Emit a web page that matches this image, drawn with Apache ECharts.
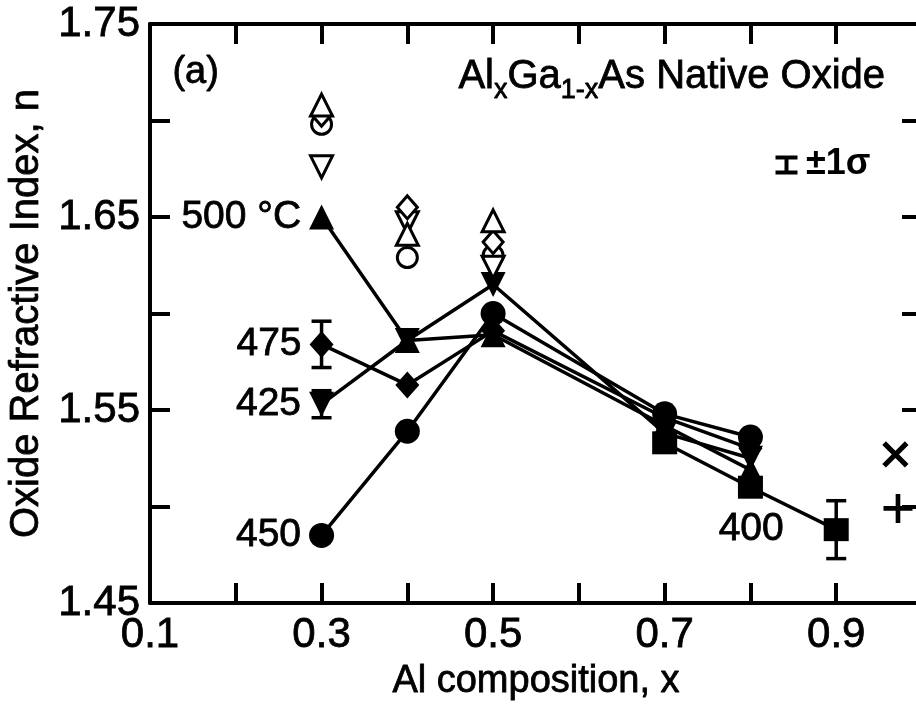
<!DOCTYPE html>
<html>
<head>
<meta charset="utf-8">
<script src="https://cdn.jsdelivr.net/npm/echarts@6/dist/echarts.min.js"></script>
<style>
  html, body { margin: 0; padding: 0; background: #fff; }
  #chart { width: 916px; height: 706px; }
</style>
</head>
<body>
<div id="chart"></div>
<script>
var FONT = '"Liberation Sans", Arial, Helvetica, sans-serif';

// filled symbols, one line per oxidation temperature
var xMain = [0.3, 0.4, 0.5, 0.7, 0.8];
var n500 = [1.650, 1.586, 1.589, 1.542, 1.519];
var n475 = [1.584, 1.563, 1.591, 1.546, 1.530];
var n425 = [1.553, 1.586, 1.615, 1.538, 1.525];
var n450 = [1.485, 1.539, 1.600, 1.548, 1.536];
var x400 = [0.7, 0.8, 0.9];
var n400 = [1.533, 1.510, 1.488];

// open symbols (not connected)
var xOpen = [0.3, 0.4, 0.5];
var openTriUp = [1.708, 1.641, 1.648];
var openDiamond = [1.703, 1.655, 1.637];
var openCircle = [1.698, 1.629, 1.630];
var openTriDown = [1.676, 1.647, 1.624];

// x and + at the right edge
var xCross = [0.969];
var nCross = [1.527];
var xPlus = [0.972];
var nPlus = [1.499];

// error bars: x, n, sigma
var errX = [0.3, 0.3, 0.9];
var errN = [1.584, 1.553, 1.488];
var errS = [0.012, 0.007, 0.015];

var tempLabels = ['500 °C', '475', '425', '450', '400'];

var xTickLabels = ['0.1', '0.3', '0.5', '0.7', '0.9'];
var yTickLabels = ['1.45', '1.55', '1.65', '1.75'];

var chart = echarts.init(document.getElementById('chart'));

// a thin outline makes the glyphs as heavy as the scanned lettering
var INK = { textBorderColor: '#000', textBorderWidth: 0.8 };

function pairs(xs, ys) {
    return xs.map(function (x, i) { return [x, ys[i]]; });
}

function lineSeries(xs, ys, symbol, rotate, size, labelIdx, labelText, labelDist) {
    return {
        type: 'line',
        symbol: symbol,
        symbolSize: size,
        symbolRotate: rotate,
        lineStyle: { color: '#000', width: 3.5 },
        itemStyle: { color: '#000', opacity: 1 },
        z: 3,
        data: xs.map(function (x, i) {
            var d = { value: [x, ys[i]] };
            if (i === labelIdx) {
                d.label = Object.assign({
                    show: true, position: 'left', distance: labelDist,
                    formatter: labelText, fontSize: 39, fontFamily: FONT, color: '#000'
                }, INK);
            }
            return d;
        })
    };
}

function openSeries(ys, symbol, rotate, size) {
    return {
        type: 'scatter',
        symbol: symbol,
        symbolSize: size,
        symbolRotate: rotate,
        itemStyle: { color: '#fff', borderColor: '#000', borderWidth: 3, opacity: 1 },
        z: 4,
        data: pairs(xOpen, ys)
    };
}

var plusPath = 'path://M0,42L100,42L100,58L0,58Z M42,0L58,0L58,100L42,100Z';

var tickStyle = { show: true, inside: true, length: 20, lineStyle: { color: '#000', width: 4 } };
var lineStyleAxis = { show: true, onZero: false, lineStyle: { color: '#000', width: 4 } };

var option = {
    animation: false,
    backgroundColor: '#fff',
    textStyle: { fontFamily: FONT, color: '#000' },
    grid: { left: 150, right: -6, top: 24, bottom: 103, containLabel: false, outerBoundsMode: 'none' },
    xAxis: [{
        type: 'value', position: 'bottom', min: 0.1, max: 1.0, interval: 0.1,
        axisLine: lineStyleAxis, axisTick: tickStyle, splitLine: { show: false },
        axisLabel: Object.assign({
            fontSize: 42, color: '#000', margin: 11, fontFamily: FONT,
            formatter: function (v) {
                var s = v.toFixed(1);
                return xTickLabels.indexOf(s) >= 0 ? s : '';
            }
        }, INK),
        name: 'Al composition, x', nameLocation: 'middle', nameGap: 60,
        nameTextStyle: Object.assign({ fontSize: 38, color: '#000', fontFamily: FONT }, INK)
    }, {
        type: 'value', position: 'top', min: 0.1, max: 1.0, interval: 0.1,
        axisLine: lineStyleAxis, axisTick: tickStyle, splitLine: { show: false },
        axisLabel: { show: false }
    }],
    yAxis: [{
        type: 'value', position: 'left', min: 1.45, max: 1.75, interval: 0.05,
        axisLine: lineStyleAxis, axisTick: tickStyle, splitLine: { show: false },
        axisLabel: Object.assign({
            fontSize: 42, color: '#000', margin: 10, fontFamily: FONT,
            formatter: function (v) {
                var s = v.toFixed(2);
                return yTickLabels.indexOf(s) >= 0 ? s : '';
            }
        }, INK),
        name: 'Oxide Refractive Index, n', nameLocation: 'middle', nameGap: 98,
        nameTextStyle: Object.assign({ fontSize: 40, color: '#000', fontFamily: FONT }, INK)
    }, {
        type: 'value', position: 'right', min: 1.45, max: 1.75, interval: 0.05,
        axisLine: lineStyleAxis, axisTick: tickStyle, splitLine: { show: false },
        axisLabel: { show: false }
    }],
    series: [
        lineSeries(xMain, n450, 'circle', 0, 25, 0, tempLabels[3], 8),
        lineSeries(xMain, n425, 'triangle', 180, 25, 0, tempLabels[2], 8),
        lineSeries(xMain, n475, 'diamond', 0, [24, 27], 0, tempLabels[1], 8),
        lineSeries(xMain, n500, 'triangle', 0, 25, 0, tempLabels[0], 8),
        lineSeries(x400, n400, 'rect', 0, [25, 23], 2, tempLabels[4], 40),
        openSeries(openCircle, 'circle', 0, 20),
        openSeries(openTriDown, 'triangle', 180, 22),
        openSeries(openDiamond, 'diamond', 0, [20, 23]),
        openSeries(openTriUp, 'triangle', 0, 22),
        {
            type: 'scatter', symbol: plusPath, symbolSize: 32, symbolRotate: 45,
            itemStyle: { color: '#000', opacity: 1 }, data: pairs(xCross, nCross)
        },
        {
            type: 'scatter', symbol: plusPath, symbolSize: 29,
            itemStyle: { color: '#000', opacity: 1 }, data: pairs(xPlus, nPlus)
        },
        {
            type: 'custom', z: 2,
            data: errX.map(function (x, i) { return [x, errN[i] - errS[i], errN[i] + errS[i]]; }),
            encode: { x: 0, y: [1, 2] },
            renderItem: function (params, api) {
                var lo = api.coord([api.value(0), api.value(1)]);
                var hi = api.coord([api.value(0), api.value(2)]);
                var w = 10;
                var st = { stroke: '#000', lineWidth: 3.5 };
                return {
                    type: 'group',
                    children: [
                        { type: 'line', shape: { x1: lo[0], y1: lo[1], x2: hi[0], y2: hi[1] }, style: st },
                        { type: 'line', shape: { x1: lo[0] - w, y1: lo[1], x2: lo[0] + w, y2: lo[1] }, style: st },
                        { type: 'line', shape: { x1: hi[0] - w, y1: hi[1], x2: hi[0] + w, y2: hi[1] }, style: st }
                    ]
                };
            }
        }
    ],
    graphic: [
        {
            type: 'text', left: 172, top: 53,
            style: { text: '(a)', fontSize: 38, fontFamily: FONT, fill: '#000', stroke: '#000', lineWidth: 0.8 }
        },
        {
            type: 'text', left: 458, top: 50,
            style: {
                text: '{a|Al}{s|x}{a|Ga}{s|1-x}{a|As Native Oxide}',
                fill: '#000', stroke: '#000', lineWidth: 0.8,
                rich: {
                    a: { fontSize: 40, fontFamily: FONT, lineHeight: 40, verticalAlign: 'top' },
                    s: { fontSize: 27, fontFamily: FONT, lineHeight: 27, padding: [27, 0, 0, 0] }
                }
            }
        },
        {
            type: 'group', left: 773, top: 155,
            children: [
                { type: 'line', shape: { x1: 0, y1: 2, x2: 22, y2: 2 }, style: { stroke: '#000', lineWidth: 4 } },
                { type: 'line', shape: { x1: 0, y1: 17, x2: 22, y2: 17 }, style: { stroke: '#000', lineWidth: 4 } },
                { type: 'line', shape: { x1: 11, y1: 2, x2: 11, y2: 17 }, style: { stroke: '#000', lineWidth: 4 } }
            ]
        },
        {
            type: 'text', left: 806, top: 146,
            style: { text: '±1σ', fontSize: 36, fontWeight: 'bold', fontFamily: FONT, fill: '#000' }
        }
    ]
};

chart.setOption(option);
</script>
</body>
</html>
